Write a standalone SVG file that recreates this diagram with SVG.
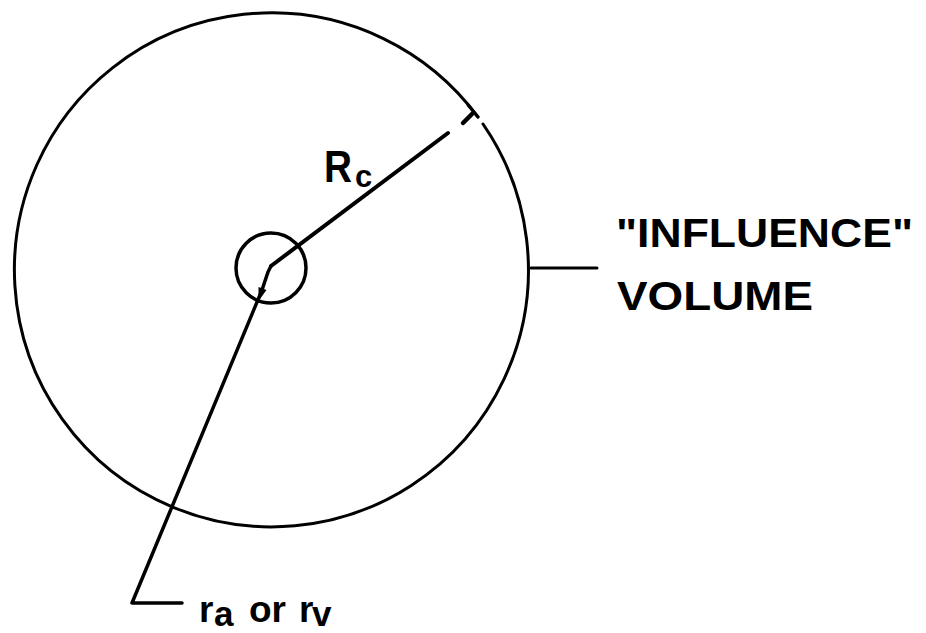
<svg xmlns="http://www.w3.org/2000/svg" width="926" height="633" viewBox="0 0 926 633">
<style>
.ln{fill:none;stroke:#000;stroke-linecap:round;stroke-linejoin:round}
.t{font-family:"Liberation Sans",Arial,sans-serif;font-weight:bold;fill:#000}
</style>
<rect width="926" height="633" fill="#fff"/>
<g id="influence-volume">
<path class="ln" stroke-width="3" d="M483,124 A257,257 0 1 1 478,117"/>
</g>
<g id="atom">
<circle class="ln" stroke-width="3.5" cx="271" cy="268" r="35"/>
</g>
<g id="connectors">
<line class="ln" stroke-width="4" x1="271" y1="266" x2="448" y2="133"/>
<line class="ln" stroke-width="4.5" x1="463" y1="123" x2="472" y2="114"/>
<line class="ln" stroke-width="3" x1="468" y1="105" x2="478" y2="117"/>
<polyline class="ln" stroke-width="3.5" points="271,266 268,272 262,290 132,603 182,603"/>
<polygon points="258.5,301 266.5,290 258.5,287" fill="#000"/>
<line class="ln" stroke-width="3" x1="531" y1="268" x2="597" y2="268"/>
</g>
<g id="label-rc">
<text class="t" x="324" y="182" font-size="45" textLength="28" lengthAdjust="spacingAndGlyphs">R</text>
<text class="t" x="355" y="187" font-size="31">c</text>
</g>
<g id="label-influence">
<text class="t" x="616" y="247" font-size="41" textLength="297" lengthAdjust="spacingAndGlyphs">"INFLUENCE"</text>
<text class="t" x="617" y="310" font-size="41" textLength="196" lengthAdjust="spacingAndGlyphs">VOLUME</text>
</g>
<g id="label-ra-rv">
<text class="t" x="199" y="622" font-size="37">r</text>
<text class="t" x="214" y="626" font-size="35">a</text>
<text class="t" x="249" y="622" font-size="37">or</text>
<text class="t" x="299" y="622" font-size="37">r</text>
<text class="t" x="312" y="626" font-size="35">v</text>
</g>
</svg>
